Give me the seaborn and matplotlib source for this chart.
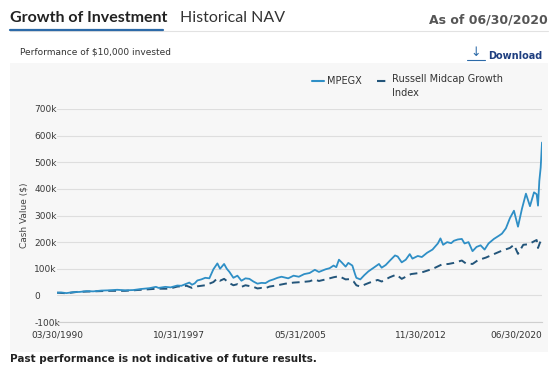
import matplotlib
matplotlib.use("Agg")
import matplotlib.pyplot as plt
from matplotlib.lines import Line2D
from matplotlib.patches import Rectangle
import seaborn as sns
import pandas as pd
import numpy as np

# ---------------- data (values in $ thousands) ----------------
fund_dates = ["1990-03","1990-06","1990-10","1991-03","1991-08","1992-01","1992-06","1992-12",
              "1993-06","1993-12","1994-06","1994-12","1995-06","1995-12","1996-05","1996-07",
              "1996-12","1997-04","1997-09","1997-12","1998-04","1998-06","1998-08","1998-10",
              "1998-12","1999-03","1999-06","1999-09","1999-12","2000-03","2000-05","2000-08",
              "2000-10","2000-12","2001-03","2001-06","2001-09","2001-12","2002-03","2002-06",
              "2002-09","2002-12","2003-03","2003-06","2003-09","2003-12","2004-03","2004-08",
              "2004-12","2005-04","2005-08","2005-12","2006-04","2006-07","2006-12","2007-03",
              "2007-06","2007-08","2007-10","2007-12","2008-03","2008-05","2008-08","2008-10",
              "2008-11","2009-02","2009-05","2009-08","2009-12","2010-04","2010-06","2010-09",
              "2010-12","2011-04","2011-06","2011-09","2011-12","2012-03","2012-05","2012-09",
              "2012-12","2013-04","2013-08","2013-12","2014-02","2014-04","2014-07","2014-10",
              "2014-12","2015-03","2015-06","2015-08","2015-11","2016-02","2016-05","2016-08",
              "2016-11","2017-02","2017-06","2017-10","2017-12","2018-03","2018-06","2018-09",
              "2018-12","2019-03","2019-06","2019-09","2019-12","2020-02","2020-03","2020-04",
              "2020-05","2020-06"]
fund_values = [10, 11, 8.5, 12, 13, 16, 15, 18,
               19, 21, 19, 20, 24, 27, 32, 28,
               32, 30, 37, 36, 44, 48, 40, 45,
               56, 60, 66, 64, 98, 120, 100, 118,
               100, 88, 66, 74, 55, 64, 62, 52,
               44, 47, 46, 55, 60, 66, 70, 64,
               74, 70, 80, 84, 96, 88, 98, 102,
               112, 106, 134, 124, 108, 122, 112, 80,
               66, 60, 76, 90, 104, 118, 104, 114,
               130, 150, 146, 124, 134, 155, 138, 148,
               144, 160, 172, 195, 214, 190, 200, 196,
               205, 210, 212, 195, 200, 166, 182, 188,
               172, 195, 212, 225, 232, 252, 290, 318,
               258, 325, 382, 335, 387, 380, 337, 430,
               480, 574]

index_dates = ["1990-03","1990-10","1991-06","1992-06","1993-06","1994-06","1995-06","1996-06",
               "1997-03","1997-09","1998-04","1998-08","1998-12","1999-06","1999-12","2000-03",
               "2000-05","2000-08","2000-12","2001-03","2001-06","2001-09","2001-12","2002-06",
               "2002-09","2002-12","2003-03","2003-06","2003-12","2004-06","2004-12","2005-06",
               "2005-12","2006-04","2006-07","2006-12","2007-06","2007-10","2008-03","2008-06",
               "2008-09","2008-11","2009-02","2009-06","2009-10","2010-03","2010-06","2010-12",
               "2011-05","2011-09","2011-12","2012-04","2012-10","2013-01","2013-06","2013-10",
               "2014-03","2014-08","2014-12","2015-06","2015-09","2016-02","2016-06","2016-12",
               "2017-06","2017-12","2018-06","2018-09","2018-12","2019-04","2019-08","2019-12",
               "2020-02","2020-03","2020-06"]
index_values = [10, 8, 13, 15, 17, 17, 21, 25,
                25, 33, 36, 28, 34, 38, 50, 64,
                55, 62, 46, 38, 42, 32, 38, 32,
                26, 28, 27, 33, 38, 44, 48, 50,
                53, 60, 54, 60, 68, 72, 60, 61,
                52, 38, 33, 42, 50, 58, 52, 68,
                78, 62, 70, 80, 84, 88, 96, 104,
                116, 118, 122, 131, 120, 118, 132, 142,
                155, 168, 178, 190, 156, 190, 192, 203,
                208, 178, 219]

series_names = ["MPEGX", "Russell Midcap Growth\nIndex"]
x_tick_labels = ["03/30/1990", "10/31/1997", "05/31/2005", "11/30/2012", "06/30/2020"]
y_ticks = [-100000, 0, 100000, 200000, 300000, 400000, 500000, 600000, 700000]
y_tick_labels = ["-100k", "0", "100k", "200k", "300k", "400k", "500k", "600k", "700k"]

# ---------------- figure ----------------
W, H = 557, 375
sns.set_theme(style="white")
plt.rcParams['font.family'] = ['DejaVu Sans']

fig = plt.figure(figsize=(W / 100, H / 100), dpi=100)
fig.patch.set_facecolor("white")

def fx(px):
    return px / W

def fy(py):
    return 1 - py / H

# grey panel
fig.add_artist(Rectangle((fx(10), fy(352)), fx(548) - fx(10), fy(63) - fy(352),
                         transform=fig.transFigure, facecolor="#f7f7f7", edgecolor="none", zorder=0))

ax = fig.add_axes([fx(57), fy(322), fx(542) - fx(57), fy(109) - fy(322)])
ax.set_facecolor("none")

fund_df = pd.DataFrame({"date": pd.to_datetime(fund_dates), "value": np.array(fund_values) * 1000})
index_df = pd.DataFrame({"date": pd.to_datetime(index_dates), "value": np.array(index_values) * 1000})
fund_df["date"] = fund_df["date"] + pd.offsets.MonthEnd(0)
index_df["date"] = index_df["date"] + pd.offsets.MonthEnd(0)

solid_color = "#2f8fc6"
dash_color = "#23557a"

sns.lineplot(data=index_df, x="date", y="value", ax=ax, color=dash_color, lw=1.4, zorder=3)
ax.lines[-1].set_dashes([4, 2.6])
sns.lineplot(data=fund_df, x="date", y="value", ax=ax, color=solid_color, lw=1.3, zorder=4)

tick_dates = pd.to_datetime(x_tick_labels, format="%m/%d/%Y")
ax.set_xlim(tick_dates[0], tick_dates[-1])
ax.set_xticks(tick_dates)
ax.set_xticklabels(x_tick_labels)
ax.set_ylim(-100000, 700000)
ax.set_yticks(y_ticks)
ax.set_yticklabels(y_tick_labels)
ax.set_xlabel("")
ax.set_ylabel("")

ax.grid(axis="y", color="#dedede", lw=0.8)
ax.grid(axis="x", visible=False)
for s in ["top", "right", "left"]:
    ax.spines[s].set_visible(False)
ax.spines["bottom"].set_color("#cfcfcf")
ax.spines["bottom"].set_linewidth(0.8)

ax.tick_params(axis="x", length=4, width=0.8, color="#cfcfcf", labelsize=6.5, labelcolor="#333333", pad=2)
ax.tick_params(axis="y", length=0, labelsize=6.5, labelcolor="#3a3a3a", pad=16.5)
for lab in ax.get_yticklabels():
    lab.set_ha("left")
ax.get_xticklabels()[-1].set_ha("right")

fig.text(fx(24), fy(215), "Cash Value ($)", rotation=90, ha="center", va="center",
         fontsize=6.5, color="#444444")

# header
fig.text(fx(10), fy(18), "Growth of Investment", fontsize=11.5, fontweight="bold",
         family=["Lato", "DejaVu Sans"], color="#222222", va="center", ha="left")
fig.text(fx(180), fy(18), "Historical NAV", fontsize=11.5, family=["Lato", "DejaVu Sans"],
         color="#333333", va="center", ha="left")
fig.text(fx(548), fy(20), "As of 06/30/2020", fontsize=9, fontweight="bold",
         color="#555555", va="center", ha="right")
fig.add_artist(Line2D([fx(10), fx(548)], [fy(30.5), fy(30.5)], transform=fig.transFigure,
                      color="#e2e2e2", lw=0.8))
fig.add_artist(Line2D([fx(10), fx(163)], [fy(30), fy(30)], transform=fig.transFigure,
                      color="#2c6aa8", lw=1.6))

fig.text(fx(20), fy(52), "Performance of $10,000 invested", fontsize=6.5, color="#333333",
         va="center", ha="left")
fig.text(fx(476), fy(52), "\u2193", fontsize=9, color="#2c6aa8", va="center", ha="center")
fig.add_artist(Line2D([fx(467), fx(485)], [fy(60), fy(60)], transform=fig.transFigure,
                      color="#2c6aa8", lw=0.8))
fig.text(fx(488), fy(56), "Download", fontsize=7, fontweight="bold", color="#1f3f80",
         va="center", ha="left")

# legend
fig.add_artist(Line2D([fx(312), fx(324)], [fy(81), fy(81)], transform=fig.transFigure,
                      color=solid_color, lw=1.5))
fig.text(fx(327), fy(81), series_names[0], fontsize=7, color="#333333", va="center", ha="left")
ld = Line2D([fx(377), fx(390)], [fy(81), fy(81)], transform=fig.transFigure,
            color=dash_color, lw=1.5)
ld.set_dashes([4, 2.4])
fig.add_artist(ld)
fig.text(fx(392), fy(74.5), series_names[1], fontsize=7, color="#333333", va="top", ha="left",
         linespacing=1.5)

# footer
fig.text(fx(10), fy(359), "Past performance is not indicative of future results.", fontsize=7.5,
         fontweight="bold", color="#222222", va="center", ha="left")

fig.savefig("out.png", dpi=100, facecolor="white")
